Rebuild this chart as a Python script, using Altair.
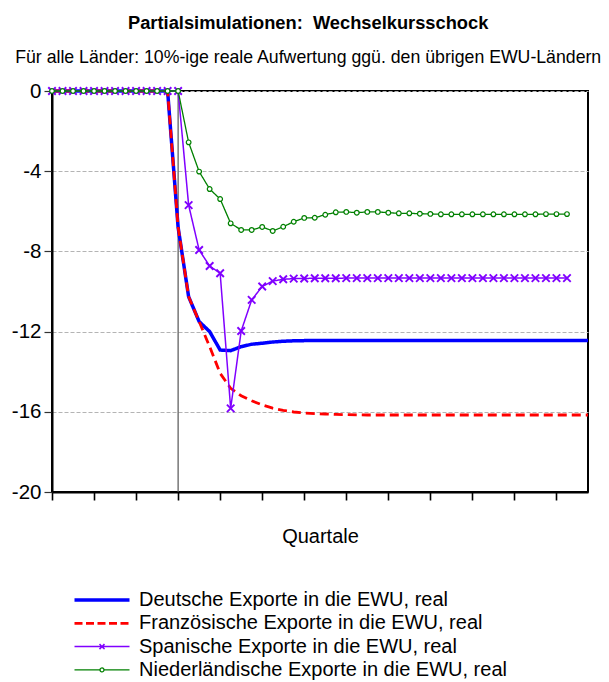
import altair as alt
import pandas as pd

# ---------------- data ----------------
quarters = list(range(52))

series_names = [
    "Deutsche Exporte in die EWU, real",
    "Französische Exporte in die EWU, real",
    "Spanische Exporte in die EWU, real",
    "Niederländische Exporte in die EWU, real",
]

deutsch = [0, 0, 0, 0, 0, 0, 0, 0, 0, 0, 0, 0,
           -6.8, -10.26, -11.5, -12.0, -12.92, -12.95, -12.75, -12.63, -12.58, -12.52,
           -12.48, -12.46, -12.45, -12.45, -12.45, -12.45, -12.45, -12.45, -12.45, -12.45,
           -12.45, -12.45, -12.45, -12.45, -12.45, -12.45, -12.45, -12.45, -12.45, -12.45,
           -12.45, -12.45, -12.45, -12.45, -12.45, -12.45, -12.45, -12.45, -12.45, -12.45]

franz = [0, 0, 0, 0, 0, 0, 0, 0, 0, 0, 0, 0,
         -6.8, -10.26, -11.5, -12.75, -14.08, -14.83, -15.2, -15.45, -15.66, -15.82,
         -15.93, -16.01, -16.06, -16.09, -16.11, -16.13, -16.14, -16.15, -16.16, -16.16,
         -16.16, -16.16, -16.16, -16.16, -16.16, -16.16, -16.16, -16.16, -16.16, -16.16,
         -16.16, -16.16, -16.16, -16.16, -16.16, -16.16, -16.16, -16.16, -16.16, -16.16]

spanien = [0, 0, 0, 0, 0, 0, 0, 0, 0, 0, 0, 0, 0,
           -5.69, -7.93, -8.73, -9.09, -15.83, -11.97, -10.42, -9.75, -9.48, -9.39,
           -9.36, -9.35, -9.34, -9.34, -9.34, -9.33, -9.33, -9.33, -9.33, -9.33,
           -9.33, -9.33, -9.33, -9.33, -9.33, -9.33, -9.33, -9.33, -9.33, -9.33,
           -9.33, -9.33, -9.33, -9.33, -9.33, -9.33, -9.33]

niederlande = [0, 0, 0, 0, 0, 0, 0, 0, 0, 0, 0, 0, 0,
               -2.56, -4.02, -4.89, -5.39, -6.6, -6.93, -6.93, -6.78, -6.98, -6.77,
               -6.52, -6.33, -6.32, -6.17, -6.05, -6.03, -6.07, -6.03, -6.03, -6.07,
               -6.1, -6.1, -6.12, -6.13, -6.15, -6.15, -6.15, -6.15, -6.15, -6.15,
               -6.15, -6.15, -6.15, -6.15, -6.14, -6.14, -6.14]

y_ticks = [0, -4, -8, -12, -16, -20]
shock_quarter = [12]

colors = ["#0000FF", "#FF0000", "#8000FF", "#008000"]
widths = [3.5, 2.8, 1.5, 1.3]
legend_widths = [3.4, 2.8, 1.5, 1.3]
dashes = [[1, 0], [9, 5], [1, 0], [1, 0]]
legend_dashes = [[1, 0], [8, 3.5], [1, 0], [1, 0]]
# legend sample glyphs (unit = 5 px): line with optional marker in its middle
legend_paths = [
    "M-1.5,0L9.5,0",
    "M-1.5,0L9.5,0",
    "M-1.5,0L9.5,0M3.5,-0.5L4.5,0.5M3.5,0.5L4.5,-0.5",
    "M-1.5,0L3.6,0M4.4,0L9.5,0M3.6,0A0.4,0.4,0,1,1,4.4,0A0.4,0.4,0,1,1,3.6,0",
]

rows = []
for name, vals in zip(series_names, [deutsch, franz, spanien, niederlande]):
    for q, v in zip(quarters, vals):
        rows.append({"q": q, "value": v, "series": name})
df = pd.DataFrame(rows)

FONT = "Liberation Sans"

x_enc = alt.X(
    "q:Q",
    scale=alt.Scale(domain=[0, 51], nice=False, zero=False),
    axis=alt.Axis(
        values=quarters,
        labels=False,
        grid=False,
        title="Quartale",
        titleFont=FONT,
        titleFontSize=20,
        titleFontWeight="normal",
        titleColor="black",
        titlePadding=26,
        domainColor="black",
        domainWidth=2,
        tickColor="black",
        tickSize={"condition": {"test": "datum.value % 4 === 0", "value": 8}, "value": 5},
        tickWidth={"condition": {"test": "datum.value % 4 === 0", "value": 1.6}, "value": 1},
    ),
)
y_enc = alt.Y(
    "value:Q",
    scale=alt.Scale(domain=[-20, 0], nice=False, zero=False),
    axis=alt.Axis(
        values=y_ticks,
        title=None,
        labelExpr="datum.value + ''",
        labelFont=FONT,
        labelFontSize=20.5,
        labelColor="black",
        labelPadding=3,
        tickSize=8,
        tickColor="#333333",
        tickWidth=1.2,
        domainColor="black",
        domainWidth=2,
        grid=True,
        gridColor="#b4b4b4",
        gridDash=[4, 2],
        gridWidth=1,
    ),
)

base = alt.Chart(df)

# shock line
shock = alt.Chart(pd.DataFrame({"q": shock_quarter})).mark_rule(
    color="#555555", strokeWidth=1.2
).encode(x=alt.X("q:Q"))

line_layers = []
for name, col, w, d in zip(series_names, colors, widths, dashes):
    line_layers.append(
        base.transform_filter(alt.datum.series == name)
        .mark_line(color=col, strokeWidth=w, strokeDash=d)
        .encode(x=x_enc, y=y_enc)
    )

span_pts = base.transform_filter(alt.datum.series == series_names[2]).mark_point(
    shape="M-1,-1L1,1M-1,1L1,-1", size=56, strokeWidth=1.9, filled=False,
    stroke=colors[2], opacity=1
).encode(x="q:Q", y="value:Q")

nl_pts = base.transform_filter(alt.datum.series == series_names[3]).mark_point(
    shape="circle", size=22, strokeWidth=1.2, filled=True, fill="white",
    stroke=colors[3], opacity=1
).encode(x="q:Q", y="value:Q")

leg = alt.Legend(
    title=None,
    orient="none",
    legendX=20,
    legendY=499,
    labelFont=FONT,
    labelFontSize=20,
    labelColor="black",
    labelLimit=0,
    symbolSize=100,
    symbolOpacity=1,
    rowPadding=3.3,
    labelOffset=47,
    symbolOffset=0,
)

legend_df = pd.DataFrame({"eintrag": series_names, "q": [0, 0, 0, 0], "value": [0, 0, 0, 0]})

legend_layer = alt.Chart(legend_df).transform_filter("false").mark_point(
    filled=False, opacity=1
).encode(
    x="q:Q",
    y="value:Q",
    color=alt.Color("eintrag:N", scale=alt.Scale(domain=series_names, range=colors), legend=leg),
    shape=alt.Shape("eintrag:N", scale=alt.Scale(domain=series_names, range=legend_paths), legend=leg),
    strokeWidth=alt.StrokeWidth(
        "eintrag:N",
        scale=alt.Scale(type="ordinal", domain=series_names, range=legend_widths),
        legend=leg,
    ),
    strokeDash=alt.StrokeDash(
        "eintrag:N", scale=alt.Scale(domain=series_names, range=legend_dashes), legend=leg
    ),
)

chart = (
    alt.layer(shock, *line_layers, span_pts, nl_pts, legend_layer)
    .properties(
        width=536,
        height=401,
        padding={"left": 44, "top": 83, "right": 13, "bottom": 188},
        autosize=alt.AutoSizeParams(type="none"),
        title=alt.TitleParams(
            text="Partialsimulationen:\u00a0 Wechselkursschock",
            subtitle="Für alle Länder: 10%-ige reale Aufwertung ggü. den übrigen EWU-Ländern",
            font=FONT,
            fontSize=18.3,
            fontWeight="bold",
            color="black",
            subtitleFont=FONT,
            subtitleFontSize=17.7,
            subtitleColor="black",
            subtitlePadding=16,
            anchor="middle",
            frame="bounds",
            offset=13,
            dx=5,
        ),
    )
    .configure_view(stroke="black", strokeWidth=2)
)

chart.save("out.html", embed_options={"renderer": "svg", "actions": False})
